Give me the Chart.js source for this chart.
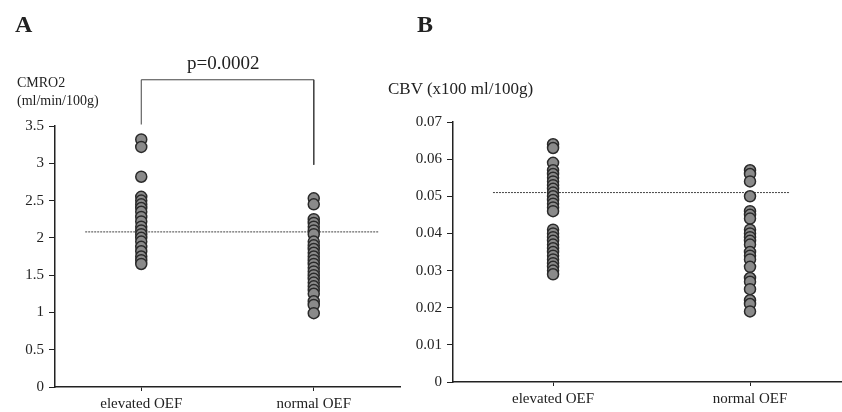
<!DOCTYPE html>
<html>
<head>
<meta charset="utf-8">
<script src="https://cdn.jsdelivr.net/npm/chart.js@4.4.0/dist/chart.umd.min.js"></script>
<style>
  body { margin: 0; background: #fff; width: 842px; height: 412px; position: relative; overflow: hidden; }
  .panel { position: absolute; top: 0; }
  .txt { position: absolute; font-family: "Liberation Serif", "DejaVu Serif", serif; color: #222; white-space: nowrap; line-height: 1; }
</style>
</head>
<body>
<div class="panel" style="left:0px"><canvas id="chartA" width="421" height="412"></canvas></div>
<div class="panel" style="left:380px"><canvas id="chartB" width="469" height="412"></canvas></div>

<div class="txt" style="left:15px; top:12px; font-size:24px; font-weight:bold;">A</div>
<div class="txt" style="left:417px; top:12px; font-size:24px; font-weight:bold;">B</div>
<div class="txt" style="left:187px; top:53px; font-size:19px;">p=0.0002</div>
<div class="txt" style="left:17px; top:76px; font-size:14px;">CMRO2</div>
<div class="txt" style="left:17px; top:94px; font-size:14px;">(ml/min/100g)</div>
<div class="txt" style="left:388px; top:80px; font-size:17px;">CBV (x100 ml/100g)</div>

<script>
// categories
const groups = ['elevated OEF', 'normal OEF'];

// panel A: CMRO2 (ml/min/100g)
const cmro2Elevated = [3.32, 3.22, 2.82, 2.55, 2.5, 2.45, 2.4, 2.35, 2.28, 2.22, 2.15, 2.1, 2.05, 2.0, 1.95, 1.88, 1.82, 1.75, 1.7, 1.65];
const cmro2Normal = [2.53, 2.45, 2.25, 2.2, 2.15, 2.1, 2.05, 1.95, 1.9, 1.85, 1.8, 1.75, 1.7, 1.65, 1.6, 1.55, 1.5, 1.45, 1.4, 1.35, 1.3, 1.25, 1.15, 1.1, 0.99];
const cmro2Mean = 2.08;
const meanLineAX = [-0.325, 1.374];
const bracketX = [0, 0, 1, 1];
const bracketY = [3.52, 4.12, 4.12, 2.98];
const ticksA = [0, 0.5, 1, 1.5, 2, 2.5, 3, 3.5];

// panel B: CBV (x100 ml/100g)
const cbvElevated = [0.064, 0.063, 0.059, 0.057, 0.056, 0.055, 0.054, 0.053, 0.052, 0.051, 0.050, 0.049, 0.048, 0.047, 0.046, 0.041, 0.040, 0.039, 0.038, 0.037, 0.036, 0.035, 0.034, 0.033, 0.032, 0.031, 0.030, 0.029];
const cbvNormal = [0.057, 0.056, 0.054, 0.050, 0.046, 0.045, 0.044, 0.041, 0.040, 0.039, 0.038, 0.037, 0.035, 0.034, 0.033, 0.031, 0.028, 0.027, 0.025, 0.022, 0.021, 0.019];
const cbvMean = 0.051;
const meanLineBX = [-0.305, 1.203];
const ticksB = [0, 0.01, 0.02, 0.03, 0.04, 0.05, 0.06, 0.07];

const ink = '#222';
const tickFont = { family: '"Liberation Serif", serif', size: 15 };

const dots = (vals, idx) => ({
    data: vals.map(v => ({ x: idx, y: v })),
    pointRadius: 5.5,
    pointBackgroundColor: '#8a8a8a',
    pointBorderColor: '#2a2a2a',
    pointBorderWidth: 1.5,
    order: 0
});

const meanLine = (xs, m) => ({
    type: 'line',
    showLine: true,
    data: xs.map(x => ({ x: x, y: m })),
    borderColor: '#444',
    borderWidth: 1,
    borderDash: [2, 1],
    pointRadius: 0,
    order: 1
});

function makeChart(id, cfg) {
    return new Chart(document.getElementById(id), {
        type: 'scatter',
        data: { datasets: cfg.datasets },
        options: {
            responsive: false,
            animation: false,
            devicePixelRatio: 1,
            layout: { padding: cfg.padding },
            plugins: { legend: { display: false }, tooltip: { enabled: false } },
            scales: {
                x: {
                    type: 'linear',
                    min: cfg.xMin,
                    max: cfg.xMax,
                    afterBuildTicks: s => { s.ticks = groups.map((g, i) => ({ value: i })); },
                    afterFit: s => { s.height = cfg.xHeight; },
                    ticks: { callback: (v) => groups[v], color: ink, font: tickFont, padding: 4, maxRotation: 0, autoSkip: false },
                    grid: { drawOnChartArea: false, drawTicks: true, tickLength: 4, color: ink },
                    border: { color: ink, width: 1.5 }
                },
                y: {
                    min: 0,
                    max: cfg.yMax,
                    afterBuildTicks: s => { s.ticks = cfg.yTicks.map(v => ({ value: v })); },
                    afterFit: s => { s.width = cfg.yWidth; },
                    ticks: { callback: cfg.yFmt, color: ink, font: tickFont, padding: 5 },
                    grid: { drawOnChartArea: false, drawTicks: true, tickLength: 6, color: ink },
                    border: { color: ink, width: 1.5 }
                }
            }
        }
    });
}

makeChart('chartA', {
    datasets: [
        dots(cmro2Elevated, 0),
        dots(cmro2Normal, 1),
        meanLine(meanLineAX, cmro2Mean),
        {
            type: 'line',
            showLine: true,
            data: bracketX.map((x, i) => ({ x: x, y: bracketY[i] })),
            borderColor: '#444',
            borderWidth: 1,
            pointRadius: 0,
            clip: false,
            order: 2
        }
    ],
    padding: { top: 126, right: 21, left: 0, bottom: 0 },
    xMin: -0.5, xMax: 1.5, xHeight: 25,
    yMax: 3.5, yTicks: ticksA, yWidth: 55,
    yFmt: v => String(v)
});

makeChart('chartB', {
    datasets: [
        dots(cbvElevated, 0),
        dots(cbvNormal, 1),
        meanLine(meanLineBX, cbvMean)
    ],
    padding: { top: 122, right: 0, left: 0, bottom: 0 },
    xMin: -0.508, xMax: 1.467, xHeight: 30,
    yMax: 0.07, yTicks: ticksB, yWidth: 73,
    yFmt: v => v === 0 ? '0' : v.toFixed(2)
});
</script>
</body>
</html>
